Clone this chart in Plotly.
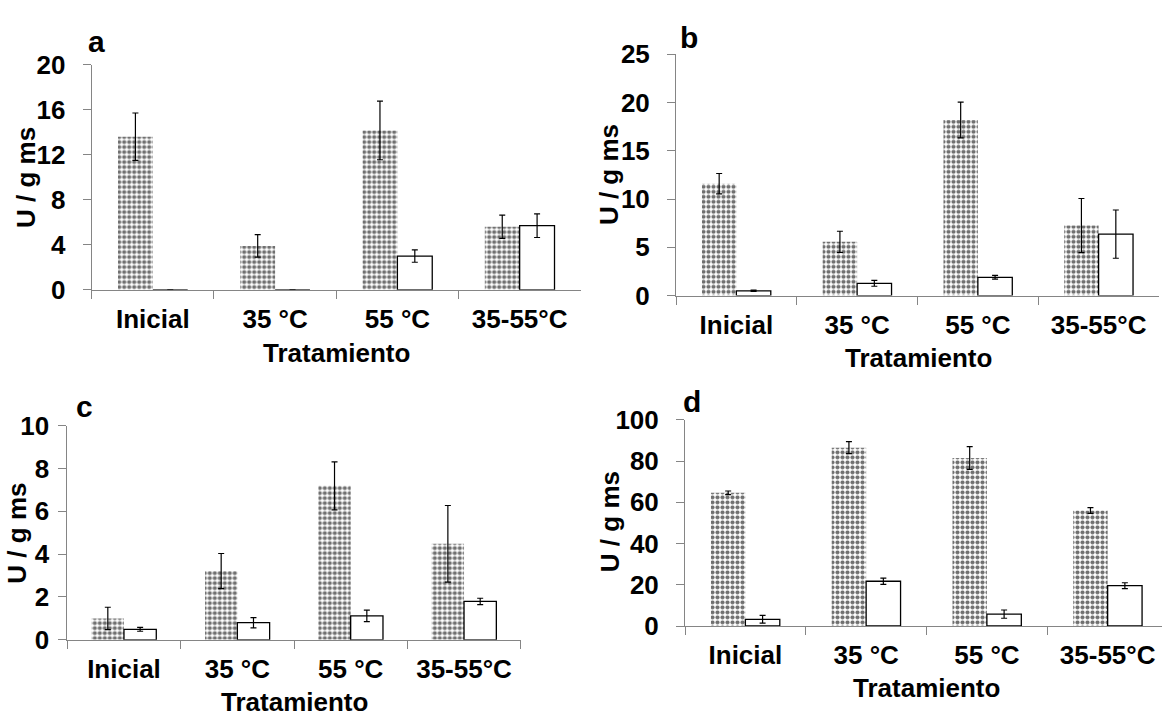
import plotly.graph_objects as go

W, H = 1162, 727

categories = ["Inicial", "35 °C", "55 °C", "35-55°C"]

# Panel a
a_checker = [13.6, 3.9, 14.15, 5.6]
a_checker_err = [2.1, 1.0, 2.6, 1.03]
a_white = [0, 0, 3.0, 5.7]
a_white_err = [0, 0, 0.55, 1.05]
# Panel b
b_checker = [11.6, 5.57, 18.2, 7.26]
b_checker_err = [1.05, 1.1, 1.85, 2.8]
b_white = [0.5, 1.27, 1.9, 6.37]
b_white_err = [0.06, 0.3, 0.2, 2.5]
# Panel c
c_checker = [1.0, 3.21, 7.19, 4.48]
c_checker_err = [0.52, 0.82, 1.12, 1.79]
c_white = [0.49, 0.8, 1.12, 1.79]
c_white_err = [0.09, 0.24, 0.27, 0.15]
# Panel d
d_checker = [64.6, 86.5, 81.5, 56.05]
d_checker_err = [0.9, 2.9, 5.5, 1.4]
d_white = [3.26, 21.7, 5.75, 19.57]
d_white_err = [1.9, 1.5, 2.0, 1.4]

y_ranges = [[0, 20], [0, 25], [0, 10], [0, 100]]
y_dticks = [4, 5, 2, 20]
panel_letters = ["a", "b", "c", "d"]
y_title = "U / g ms"
x_title = "Tratamiento"

FONT = "Liberation Sans, Arial, sans-serif"
AXIS_COLOR = "#858585"

# pixel layout of each panel: (x0, x1, ytop, ybottom, x_range_max, ylabel_standoff)
panels_px = [
    (91.7, 580.8, 51.7, 286.7, 3.5, 12),
    (676.0, 1159.0, 41.0, 292.7, 3.5, 12),
    (67.3, 520.7, 428.3, 651.7, 3.5, 4),
    (685.0, 1162.0, 422.3, 637.3, 3.45, 12),
]
letter_px = [(97, 28), (688.5, 23.5), (84, 408), (692, 403)]
ytitle_px = [(26, 170), (609, 167), (17, 541), (610, 529)]
xtitle_px = [(336, 353), (918, 357.5), (294, 717), (926, 702)]

def fx(px):
    return px / W

def fy(py):
    return 1 - py / H

data_sets = [
    (a_checker, a_checker_err, a_white, a_white_err),
    (b_checker, b_checker_err, b_white, b_white_err),
    (c_checker, c_checker_err, c_white, c_white_err),
    (d_checker, d_checker_err, d_white, d_white_err),
]

fig = go.Figure()
annotations = []
layout = dict(
    width=W, height=H,
    margin=dict(l=0, r=0, t=0, b=0),
    paper_bgcolor="white", plot_bgcolor="white",
    showlegend=False,
    barmode="group",
    bargap=0.43,
    bargroupgap=0,
    hovermode=False,
    font=dict(family=FONT, size=26, color="black", weight="bold"),
)

for i, (chk, chk_err, wht, wht_err) in enumerate(data_sets):
    n = "" if i == 0 else str(i + 1)
    xa, ya = "x" + n, "y" + n
    fig.add_trace(go.Bar(
        x=categories, y=chk, xaxis=xa, yaxis=ya,
        marker=dict(
            color="white",
            line=dict(width=0),
            pattern=dict(shape=".", fgcolor="#707070", bgcolor="white",
                         size=5, solidity=0.55, fillmode="replace"),
        ),
        error_y=dict(type="data", array=chk_err, visible=True,
                     color="black", thickness=1.2, width=3),
        offsetgroup="1",
    ))
    fig.add_trace(go.Bar(
        x=categories, y=wht, xaxis=xa, yaxis=ya,
        marker=dict(color="white", line=dict(width=1.3, color="black")),
        error_y=dict(type="data", array=wht_err, visible=True,
                     color="black", thickness=1.2, width=3),
        offsetgroup="2",
    ))
    x0, x1, yt, yb, xmax, ystand = panels_px[i]
    layout["xaxis" + n] = dict(
        domain=[fx(x0), fx(x1)], anchor=ya,
        type="category", range=[-0.5, xmax],
        showline=True, linecolor=AXIS_COLOR, linewidth=1,
        ticks="outside", tickson="boundaries", ticklen=8,
        tickcolor=AXIS_COLOR, tickwidth=1,
        ticklabelstandoff=6,
        showgrid=False, zeroline=False,
        tickfont=dict(family=FONT, size=26, color="black", weight="bold"),
    )
    layout["yaxis" + n] = dict(
        domain=[fy(yb), fy(yt)], anchor=xa,
        range=y_ranges[i], dtick=y_dticks[i], tick0=0,
        showline=True, linecolor=AXIS_COLOR, linewidth=1,
        ticks="outside", ticklen=8, tickcolor=AXIS_COLOR, tickwidth=1,
        ticklabelstandoff=ystand,
        showgrid=False, zeroline=False,
        tickfont=dict(family=FONT, size=26, color="black", weight="bold"),
    )
    lx, ly = letter_px[i]
    annotations.append(dict(
        text=panel_letters[i], x=fx(lx), y=fy(ly), xref="paper", yref="paper",
        xanchor="center", yanchor="middle", showarrow=False,
        font=dict(family=FONT, size=30, color="black", weight="bold"),
    ))
    tx, ty = ytitle_px[i]
    annotations.append(dict(
        text=y_title, x=fx(tx), y=fy(ty), xref="paper", yref="paper",
        xanchor="center", yanchor="middle", showarrow=False, textangle=-90,
        font=dict(family=FONT, size=26, color="black", weight="bold"),
    ))
    tx, ty = xtitle_px[i]
    annotations.append(dict(
        text=x_title, x=fx(tx), y=fy(ty), xref="paper", yref="paper",
        xanchor="center", yanchor="middle", showarrow=False,
        font=dict(family=FONT, size=26, color="black", weight="bold"),
    ))

layout["annotations"] = annotations
fig.update_layout(**layout)
fig.write_html(
    "out.html",
    config={"displayModeBar": False, "staticPlot": True},
    post_script="document.body.style.margin='0';document.body.style.overflow='hidden';",
)
